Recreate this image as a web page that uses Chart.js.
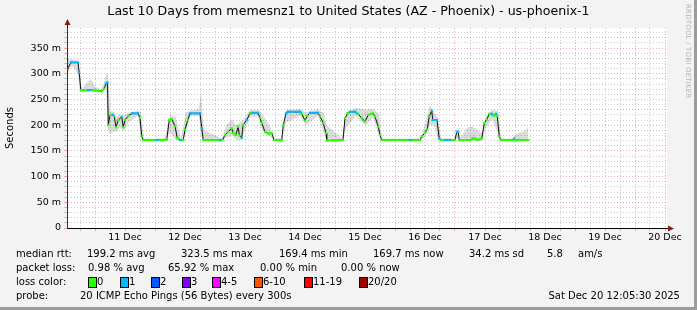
<!DOCTYPE html>
<html>
<head>
  <title>Last 10 Days from memesnz1 to United States (AZ - Phoenix) - us-phoenix-1</title>
  <meta charset="UTF-8">
  <script src="https://cdn.jsdelivr.net/npm/chart.js"></script>
  <style>
    body { margin: 0; background: #fff; }
    #wrap { position: relative; width: 697px; height: 310px; background: #f3f3f3; overflow: hidden;
            font-family: "DejaVu Sans", sans-serif; color: #000; }
    #wrap canvas { position: absolute; left: 0; top: 0; }
    .edgeR { position: absolute; right: 0; top: 0; width: 3px; height: 310px; background: #9c9c9c; }
    .edgeB { position: absolute; left: 0; bottom: 0; width: 697px; height: 3px; background: #9c9c9c; }
    #title { position: absolute; left: 0; top: 3px; width: 697px; text-align: center; font-size: 12.6px; white-space: nowrap; }
    #ylabel { position: absolute; left: 4px; top: 128px; font-size: 10px; transform-origin: 0 0;
              transform: rotate(-90deg) translate(-50%, 0); white-space: nowrap; }
    #mark { position: absolute; left: 684px; top: 4px; writing-mode: vertical-rl; font-size: 7px;
            color: #b4b4b4; white-space: nowrap; letter-spacing: 0.2px; }
    .lg { position: absolute; font-size: 10px; line-height: 12px; white-space: nowrap; }
    .box { position: absolute; width: 7px; height: 9px; border: 1px solid #000; }
  </style>
</head>
<body>
<div id="wrap">
  <canvas id="rttChart" width="697" height="310"></canvas>
  <div class="edgeR"></div>
  <div class="edgeB"></div>
  <div id="title">Last 10 Days from memesnz1 to United States (AZ - Phoenix) - us-phoenix-1</div>
  <div id="ylabel">Seconds</div>
  <div id="mark">RRDTOOL / TOBI OETIKER</div>
  <div id="legend"></div>
</div>

<script>
  // hours after 10 Dec 00:00, median rtt in ms, lost pings out of 20
  const medianHours = [
    12.9, 14.4, 17.2, 17.7, 18.3, 21.2, 23.2, 26.7, 27.7, 28.4,
    29.0, 29.3, 30.0, 31.2, 31.7, 32.4, 33.3, 34.7, 35.3, 36.0,
    37.3, 38.8, 41.2, 42.0, 42.7, 43.3, 48.8, 50.0, 51.2, 52.7,
    53.7, 54.7, 56.0, 56.9, 58.0, 59.3, 60.0, 61.1, 62.0, 66.0,
    66.7, 67.3, 74.0, 75.0, 76.0, 77.2, 78.7, 79.2, 80.4, 81.2,
    81.8, 82.7, 83.2, 84.7, 86.0, 86.8, 89.2, 90.0, 90.7, 92.0,
    93.2, 94.8, 95.6, 98.7, 99.3, 100.4, 101.2, 106.0, 106.7, 108.0,
    108.9, 110.0, 113.2, 114.0, 115.3, 116.4, 116.7, 123.2, 124.0, 125.1,
    126.0, 128.0, 129.2, 130.7, 132.0, 133.3, 135.1, 136.0, 137.3, 138.0,
    138.7, 150.0, 151.2, 154.0, 154.7, 156.0, 156.9, 157.7, 158.7, 159.1,
    160.8, 161.7, 162.3, 164.0, 166.8, 168.0, 168.7, 169.3, 169.7, 174.0,
    175.1, 176.0, 176.7, 178.7, 179.7, 180.7, 181.7, 182.7, 183.6, 184.4,
    184.9, 185.7, 186.3, 191.3, 191.6, 192.1, 197.3
  ];
  const medianMs = [
    309, 322, 322, 302, 268, 268, 268, 266, 271, 281,
    283, 200, 220, 220, 217, 196, 210, 216, 196, 210,
    218, 223, 223, 214, 178, 171, 171, 171, 171, 172,
    210, 212, 198, 175, 171, 171, 191, 210, 223, 223,
    194, 171, 171, 171, 181, 187, 194, 185, 181, 197,
    180, 175, 200, 210, 223, 224, 224, 214, 204, 187,
    184, 184, 171, 171, 200, 223, 226, 226, 222, 209,
    218, 224, 224, 217, 204, 184, 170, 171, 214, 223,
    226, 226, 222, 214, 207, 220, 223, 217, 197, 181,
    171, 171, 171, 171, 178, 185, 192, 217, 228, 210,
    210, 174, 171, 171, 171, 171, 187, 187, 171, 171,
    174, 174, 171, 174, 204, 211, 222, 222, 218, 222,
    218, 178, 171, 171, 174, 171, 171
  ];
  const lostPings = [
    12, 1, 1, 1, 0, 1, 0, 0, 0, 1,
    1, 0, 0, 1, 0, 0, 0, 1, 0, 0,
    0, 1, 1, 0, 0, 0, 1, 0, 0, 0,
    0, 0, 0, 0, 1, 0, 0, 0, 1, 1,
    1, 0, 1, 0, 0, 0, 0, 0, 0, 0,
    0, 1, 0, 1, 0, 1, 1, 0, 0, 0,
    0, 0, 0, 0, 0, 1, 1, 1, 0, 0,
    0, 1, 1, 0, 0, 0, 0, 0, 0, 0,
    1, 1, 0, 0, 0, 0, 0, 0, 0, 0,
    0, 1, 0, 0, 0, 0, 0, 0, 1, 1,
    1, 1, 0, 1, 0, 0, 1, 1, 0, 0,
    0, 0, 0, 0, 0, 0, 0, 1, 0, 1,
    0, 0, 0, 0, 1, 0, 0
  ];

  // smoke: spread of the 20 pings
  const smokeHours = [
    12.8, 14.8, 17.2, 18.0, 18.8, 21.2, 22.4, 24.0, 26.4, 27.6,
    28.4, 29.2, 30.0, 31.6, 32.4, 34.0, 35.6, 37.2, 41.2, 42.4,
    43.6, 52.0, 54.0, 56.4, 58.4, 60.4, 62.0, 65.6, 66.4, 67.6,
    74.8, 76.4, 78.8, 80.4, 82.0, 83.6, 86.0, 89.2, 90.8, 94.0,
    95.6, 98.8, 100.4, 106.0, 108.4, 113.2, 115.6, 116.8, 122.8, 124.4,
    128.4, 130.8, 132.4, 135.2, 137.6, 138.8, 154.0, 155.6, 158.0, 159.6,
    161.2, 162.4, 168.0, 168.8, 170.0, 172.8, 174.8, 177.2, 178.8, 180.4,
    182.8, 185.2, 186.4, 191.2, 192.0, 196.4, 197.2
  ];
  const smokeHigh = [
    330, 328, 326, 300, 272, 285, 290, 275, 270, 282,
    300, 300, 228, 226, 215, 222, 218, 224, 228, 225,
    174, 174, 220, 214, 174, 225, 228, 232, 265, 190,
    174, 200, 212, 200, 205, 212, 230, 230, 222, 198,
    174, 174, 230, 232, 224, 232, 222, 200, 174, 225,
    234, 232, 230, 232, 222, 174, 174, 195, 240, 225,
    215, 174, 174, 195, 174, 195, 198, 190, 185, 218,
    230, 228, 174, 174, 182, 190, 198
  ];
  const smokeLow = [
    300, 315, 300, 266, 266, 266, 266, 265, 264, 266,
    275, 190, 182, 188, 186, 195, 188, 205, 218, 175,
    170, 170, 185, 171, 170, 186, 218, 218, 180, 170,
    170, 175, 180, 172, 170, 185, 215, 218, 190, 178,
    170, 170, 205, 218, 200, 218, 185, 170, 170, 195,
    218, 205, 200, 215, 180, 170, 170, 175, 200, 200,
    172, 170, 170, 175, 170, 170, 170, 170, 170, 195,
    212, 185, 170, 170, 170, 170, 170
  ];

  const yTicks = [0, 10, 20, 30, 40, 50, 60, 70, 80, 90, 100, 110, 120, 130, 140, 150, 160, 170, 180, 190,
                  200, 210, 220, 230, 240, 250, 260, 270, 280, 290, 300, 310, 320, 330, 340, 350, 360, 370, 380];
  const xTickHours = [];
  for (let h = 18; h <= 252; h += 6) xTickHours.push(h);
  const dayNames = ['10 Dec', '11 Dec', '12 Dec', '13 Dec', '14 Dec', '15 Dec', '16 Dec', '17 Dec', '18 Dec', '19 Dec', '20 Dec'];

  const rttStats = ['199.2 ms avg', '323.5 ms max', '169.4 ms min', '169.7 ms now', '34.2 ms sd', '5.8', 'am/s'];
  const lossStats = ['0.98 % avg', '65.92 % max', '0.00 % min', '0.00 % now'];
  const lossLabels = ['0', '1', '2', '3', '4-5', '6-10', '11-19', '20/20'];
  const lossColors = ['#26ff00', '#00b8ff', '#0059ff', '#7e00ff', '#ff00ff', '#ff5500', '#ff0000', '#a10000'];
  const probeText = '20 ICMP Echo Pings (56 Bytes) every 300s';
  const stampText = 'Sat Dec 20 12:05:30 2025';

  function lossColor(n) {
    if (n <= 3) return lossColors[n];
    if (n <= 5) return lossColors[4];
    if (n <= 10) return lossColors[5];
    if (n <= 19) return lossColors[6];
    return lossColors[7];
  }

  const fam = '"DejaVu Sans", sans-serif';
  const medianPts = medianHours.map((h, i) => ({ x: h, y: medianMs[i] }));
  const smokeTop = smokeHours.map((h, i) => ({ x: h, y: smokeHigh[i] }));
  const smokeBot = smokeHours.map((h, i) => ({ x: h, y: smokeLow[i] }));

  const frame = {
    id: 'frame',
    beforeDraw(chart) {
      const a = chart.chartArea, c = chart.ctx;
      c.save();
      c.fillStyle = '#ffffff';
      c.fillRect(a.left, a.top, a.right - a.left, a.bottom - a.top);
      c.restore();
    },
    afterDraw(chart) {
      const a = chart.chartArea, c = chart.ctx;
      c.save();
      c.strokeStyle = '#000';
      c.lineWidth = 1;
      c.beginPath();
      c.moveTo(a.left + 0.5, a.top); c.lineTo(a.left + 0.5, a.top - 5);
      c.moveTo(a.right, a.bottom + 0.5); c.lineTo(a.right + 4, a.bottom + 0.5);
      c.stroke();
      c.fillStyle = '#8b1a1a';
      c.beginPath();
      c.moveTo(a.left + 0.5, a.top - 9); c.lineTo(a.left - 2.5, a.top - 3); c.lineTo(a.left + 3.5, a.top - 3);
      c.closePath(); c.fill();
      c.beginPath();
      c.moveTo(a.right + 7, a.bottom + 0.5); c.lineTo(a.right + 1, a.bottom - 2.5); c.lineTo(a.right + 1, a.bottom + 3.5);
      c.closePath(); c.fill();
      c.restore();
    }
  };

  new Chart(document.getElementById('rttChart'), {
    type: 'line',
    data: {
      datasets: [
        { data: medianPts, borderWidth: 2, order: 1, tension: 0,
          segment: { borderColor: s => Math.abs(s.p1.parsed.y - s.p0.parsed.y) > 4 ? 'rgba(0,0,0,0)' : lossColor(lostPings[s.p0DataIndex]) },
          pointStyle: 'rect', pointRadius: 1.6, pointBorderWidth: 0,
          pointBackgroundColor: lostPings.map(lossColor) },
        { data: medianPts, borderColor: '#111', borderWidth: 1, pointRadius: 0, order: 2, tension: 0 },
        { data: smokeTop, borderWidth: 0, pointRadius: 0, fill: '+1', backgroundColor: 'rgba(0,0,0,0.14)', order: 3 },
        { data: smokeBot, borderWidth: 0, pointRadius: 0, fill: false, order: 3 }
      ]
    },
    options: {
      responsive: false,
      animation: false,
      devicePixelRatio: 1,
      layout: { padding: { left: 0, top: 28, right: 30, bottom: 60 } },
      plugins: { legend: { display: false }, tooltip: { enabled: false } },
      scales: {
        x: {
          type: 'linear', min: 12.8, max: 252.8,
          afterBuildTicks: ax => { ax.ticks = xTickHours.map(v => ({ value: v })); },
          afterFit: ax => { ax.height = 22; },
          ticks: { autoSkip: false, maxRotation: 0, padding: 1, color: '#000', font: { family: fam, size: 9.5 },
                   callback: v => (v % 24 === 12 ? dayNames[Math.floor(v / 24)] : '') },
          grid: { color: c => (c.tick && c.tick.value % 24 === 0 ? 'rgba(225,120,120,0.6)' : 'rgba(150,150,150,0.5)'),
                  tickLength: 3 },
          border: { color: '#000', width: 1, dash: [1, 2] }
        },
        y: {
          type: 'linear', min: 0, max: 389,
          afterBuildTicks: ax => { ax.ticks = yTicks.map(v => ({ value: v })); },
          afterFit: ax => { ax.width = 67; },
          ticks: { autoSkip: false, padding: 3, color: '#000', font: { family: fam, size: 9.5 },
                   callback: v => (v % 50 === 0 ? (v === 0 ? '0' : v + ' m') : '') },
          grid: { color: c => (c.tick && c.tick.value % 50 === 0 ? 'rgba(225,120,120,0.6)' : 'rgba(150,150,150,0.5)'),
                  tickLength: 3 },
          border: { color: '#333', width: 1, dash: [1, 2] }
        }
      }
    },
    plugins: [frame]
  });

  // legend rows under the graph
  const legend = document.getElementById('legend');
  function put(text, left, top, extra) {
    const d = document.createElement('div');
    d.className = 'lg';
    d.textContent = text;
    d.style.left = left + 'px';
    d.style.top = top + 'px';
    if (extra) Object.assign(d.style, extra);
    legend.appendChild(d);
  }
  const rowTop = [248, 262, 276, 290];
  const rttLeft = [87, 181, 279, 373, 469, 547, 578];
  const lossLeft = [88, 168, 260, 341];
  const boxLeft = [88, 120, 151, 182, 212, 254, 304, 359];

  put('median rtt:', 16, rowTop[0]);
  rttStats.forEach((t, i) => put(t, rttLeft[i], rowTop[0]));
  put('packet loss:', 16, rowTop[1]);
  lossStats.forEach((t, i) => put(t, lossLeft[i], rowTop[1]));
  put('loss color:', 16, rowTop[2]);
  lossLabels.forEach((t, i) => {
    const b = document.createElement('div');
    b.className = 'box';
    b.style.left = boxLeft[i] + 'px';
    b.style.top = (rowTop[2] + 1) + 'px';
    b.style.background = lossColors[i];
    legend.appendChild(b);
    put(t, boxLeft[i] + 9, rowTop[2]);
  });
  put('probe:', 16, rowTop[3]);
  put(probeText, 80, rowTop[3]);
  put(stampText, 0, rowTop[3], { left: 'auto', right: '17px' });
</script>
</body>
</html>
